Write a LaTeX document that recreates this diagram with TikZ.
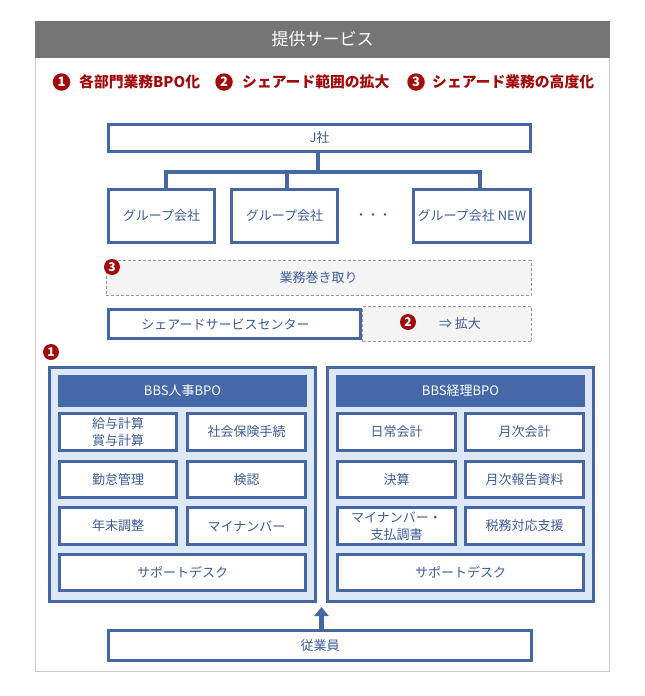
\documentclass[tikz,border=0pt]{standalone}
\usepackage{fontspec}
\setmainfont{Noto Sans CJK JP}
\usetikzlibrary{arrows.meta}
\definecolor{bblue}{HTML}{4568A5}
\definecolor{hblue}{HTML}{4468A8}
\definecolor{tblue}{HTML}{3D5C97}
\definecolor{lblue}{HTML}{DCE8F8}
\definecolor{dred}{HTML}{A00C0C}
\definecolor{hgray}{HTML}{757575}
\definecolor{fgray}{HTML}{CCCCCC}
\definecolor{dgray}{HTML}{9A9A9A}
\definecolor{pgray}{HTML}{F4F4F4}
\begin{document}
\begin{tikzpicture}[x=1pt,y=-1pt,
 box/.style={draw=bblue, line width=3pt, fill=white, text=tblue, font=\fontsize{13}{17}\selectfont, inner sep=0pt, align=center},
 bigbox/.style={draw=bblue, line width=3pt, fill=lblue, inner sep=0pt},
 headbox/.style={fill=hblue, text=white, font=\fontsize{13}{15}\selectfont, inner sep=0pt, minimum width=249pt, minimum height=32pt},
 dbox/.style={draw=dgray, line width=0.8pt, dash pattern=on 3pt off 2pt, fill=pgray, text=tblue, font=\fontsize{13}{15}\selectfont, inner sep=0pt},
 badge/.style={circle, fill=dred, text=white, font=\fontsize{12}{12}\selectfont\bfseries, minimum size=16pt, inner sep=0pt},
 lbadge/.style={badge, minimum size=17.5pt, font=\fontsize{13}{13}\selectfont\bfseries},
 legend/.style={text=dred, font=\fontsize{14.8}{16}\selectfont\bfseries, inner sep=0pt, anchor=west},
 conn/.style={draw=bblue, line width=4pt},
 cellL/.style={box, minimum width=117pt},
 cellR/.style={box, minimum width=118pt},
 cellW/.style={box, minimum width=246pt},
 rowA/.style={minimum height=37pt},
 rowB/.style={minimum height=36pt}
]
\useasboundingbox (0,0) rectangle (645,696);
% outer frame and header
\draw[fgray, line width=1pt] (35.5,21) rectangle (609.5,671.5);
\node[fill=hgray, minimum width=575pt, minimum height=36.5pt, inner sep=0pt, text=white, font=\fontsize{17}{19}\selectfont] (hdr) at (322.5,39.25) {提供サービス};
% legend
\node[lbadge] (b1) at (61.5,82) {1};
\node[legend] (t1) at (79,82) {各部門業務BPO化};
\node[lbadge] (b2) at (224,82) {2};
\node[legend] (t2) at (242,82) {シェアード範囲の拡大};
\node[lbadge] (b3) at (416,82) {3};
\node[legend] (t3) at (432,82) {シェアード業務の高度化};
% top organisation
\coordinate (hub) at (318,172);
\node[box, minimum width=422pt, minimum height=27pt] (J) at (319.5,138) {J社};
\draw[conn] (J.south -| hub) -- (hub);
\node[box, minimum width=106pt, minimum height=53pt, fill=none, draw=none] (G1) at (161.5,216) {};
\node[box, minimum width=106pt, minimum height=53pt, fill=none, draw=none] (G2) at (284.5,216) {};
\node[box, minimum width=117pt, minimum height=53pt, fill=none, draw=none] (G3) at (472,216) {};
\draw[conn] ([xshift=4.5pt]G1.north) -- ([xshift=4.5pt]G1.north |- hub) -- ([xshift=8pt]G3.north |- hub) -- ([xshift=8pt]G3.north);
\draw[conn] ([xshift=2.5pt]G2.north) -- ([xshift=2.5pt]G2.north |- hub);
\node[box, minimum width=106pt, minimum height=53pt] at (G1) {グループ会社};
\node[box, minimum width=106pt, minimum height=53pt] at (G2) {グループ会社};
\node[box, minimum width=117pt, minimum height=53pt] at (G3) {グループ会社 NEW};
\node[text=tblue, font=\fontsize{12}{14}\selectfont, inner sep=0pt] (dots) at (373,217) {・・・};
% shared service
\node[dbox, minimum width=425pt, minimum height=35pt] (M) at (318.5,278) {業務巻き取り};
\node[badge] (c3) at (112,267) {3};
\node[dbox, minimum width=169pt, minimum height=35pt] (X) at (447,324) {\hspace*{26pt}⇒ 拡大};
\node[box, minimum width=252pt, minimum height=29pt] (S) at (234.5,324) {\hspace*{-18pt}シェアードサービスセンター};
\node[badge] (c2) at (408,322) {2};
% BPO boxes
\node[badge] (c1) at (51,352) {1};
\node[bigbox, minimum width=266pt, minimum height=234pt] (L) at (182.5,484.5) {};
\node[bigbox, minimum width=266pt, minimum height=234pt] (R) at (460.5,484.5) {};
\node[headbox] (LH) at (182.5,391) {BBS人事BPO};
\node[headbox] (RH) at (460.5,391) {BBS経理BPO};
% left cells
\node[cellL, rowA] (L11) at (118,432) {給与計算\\賞与計算};
\node[cellR, rowA] (L12) at (246.5,432) {社会保険手続};
\node[cellL, rowB] (L21) at (118,479.5) {勤怠管理};
\node[cellR, rowB] (L22) at (246.5,479.5) {検認};
\node[cellL, rowA] (L31) at (118,526) {年末調整};
\node[cellR, rowA] (L32) at (246.5,526) {マイナンバー};
\node[cellW, rowB] (L4) at (182.5,572.5) {サポートデスク};
% right cells
\node[cellR, rowA] (R11) at (396.5,432) {日常会計};
\node[cellR, rowA] (R12) at (524.5,432) {月次会計};
\node[cellR, rowB] (R21) at (396.5,479.5) {決算};
\node[cellR, rowB] (R22) at (524.5,479.5) {月次報告資料};
\node[cellR, rowA] (R31) at (396.5,526) {マイナンバー・\\支払調書};
\node[cellR, rowA] (R32) at (524.5,526) {税務対応支援};
\node[cellW, rowB] (R4) at (460.5,572.5) {サポートデスク};
% employees
\node[box, minimum width=423pt, minimum height=30pt] (E) at (320,645.5) {従業員};
\coordinate (tip) at (321.5,607);
\draw[draw=bblue, line width=4.5pt, -{Triangle[width=14pt,length=9pt]}] (E.north -| tip) -- (tip);
\end{tikzpicture}
\end{document}
